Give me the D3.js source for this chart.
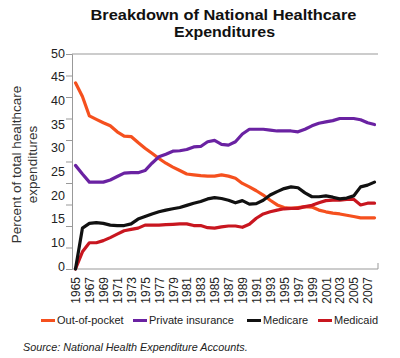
<!DOCTYPE html>
<html><head><meta charset="utf-8">
<script src="https://cdn.jsdelivr.net/npm/d3@7"></script>
<style>body{margin:0;background:#fff;} svg{display:block;font-family:"Liberation Sans",Arial,sans-serif;}</style>
</head><body>
<script>
const years = d3.range(1965, 2009);
const outOfPocket = [43.3,40.1,35.6,34.8,34.0,33.3,31.9,30.9,30.8,29.4,28.1,26.9,25.7,24.6,23.7,22.9,22.1,21.9,21.7,21.6,21.6,21.9,21.6,21.1,19.9,19.1,18.2,17.2,16.0,14.9,14.3,14.1,14.3,14.5,14.4,13.7,13.3,13.0,12.8,12.5,12.2,11.9,11.9,11.9];
const privateIns = [24.1,22.1,20.2,20.2,20.2,20.7,21.5,22.3,22.4,22.4,22.9,24.6,26.1,26.7,27.4,27.5,27.8,28.4,28.5,29.6,29.9,29.0,28.8,29.6,31.4,32.5,32.5,32.5,32.3,32.1,32.1,32.1,31.9,32.5,33.3,33.9,34.2,34.5,35.0,35.0,35.0,34.7,34.0,33.6];
const medicare = [0,9.5,10.6,10.8,10.6,10.2,10.1,10.1,10.5,11.6,12.2,12.8,13.3,13.7,14.0,14.3,14.8,15.3,15.7,16.3,16.6,16.4,16.0,15.4,15.9,15.1,15.2,16.0,17.2,18.0,18.7,19.1,18.9,17.7,16.8,16.8,17.0,16.7,16.3,16.5,17.0,19.1,19.5,20.2];
const medicaid = [0,4.0,6.1,6.1,6.6,7.3,8.1,8.9,9.2,9.5,10.2,10.2,10.2,10.3,10.4,10.5,10.5,10.1,10.1,9.6,9.5,9.8,10.0,10.0,9.7,10.4,11.8,12.8,13.3,13.7,14.0,14.1,14.1,14.5,14.8,15.4,15.9,16.0,16.0,16.2,16.2,14.9,15.3,15.3];
const seriesNames = ["Out-of-pocket","Private insurance","Medicare","Medicaid"];
const seriesColors = ["#f5501e","#6a22a2","#111111","#c8161f"];
const yTickValues = d3.range(0, 51, 5);
const yTickLabels = ["0","10","15","20","25","30","35","40","45","50"];
const xTickLabels = years.filter(y => (y - 1965) % 2 === 0);

const W = 400, H = 358;
const svg = d3.select("body").append("svg").attr("width", W).attr("height", H);
const pL = 72, pR = 378, pT = 54, pB = 269;

const x = d3.scalePoint().domain(years).range([pL, pR]).padding(0.5);
const y = d3.scaleLinear().domain([0, 50]).range([pB, pT]);
const yLab = d3.scalePoint().domain(yTickLabels).range([266, 53]);

// title
svg.append("text").attr("x", 223.5).attr("y", 20).attr("text-anchor", "middle")
  .attr("font-size", 15).attr("font-weight", "bold").attr("fill", "#111")
  .attr("textLength", 266).attr("lengthAdjust", "spacingAndGlyphs").text("Breakdown of National Healthcare");
svg.append("text").attr("x", 224.5).attr("y", 36.5).attr("text-anchor", "middle")
  .attr("font-size", 15).attr("font-weight", "bold").attr("fill", "#111")
  .attr("textLength", 101).attr("lengthAdjust", "spacingAndGlyphs").text("Expenditures");

// top line
svg.append("line").attr("x1", pL).attr("x2", pR).attr("y1", y(50)).attr("y2", y(50))
  .attr("stroke", "#999").attr("stroke-width", 1);

// y axis ticks
const yAxis = svg.append("g").attr("transform", `translate(${pL},0)`)
  .call(d3.axisLeft(y).tickValues(yTickValues).tickSize(6).tickFormat(""));
yAxis.selectAll("path,line").attr("stroke", "#999");

// y labels (as in reference, evenly spread)
svg.append("g").selectAll("text").data(yTickLabels).join("text")
  .attr("x", 65).attr("y", d => yLab(d)).attr("dy", "0.36em").attr("text-anchor", "end")
  .attr("font-size", 12.5).attr("fill", "#222").text(d => d);

// x axis
const xAxis = svg.append("g").attr("transform", `translate(0,${pB})`)
  .call(d3.axisBottom(x).tickValues(xTickLabels).tickSize(0).tickPadding(0));
xAxis.select(".domain").attr("stroke", "#999").attr("d", `M${pL},0H${pR}V-6`);
xAxis.selectAll("text").attr("transform", "rotate(-90)").attr("text-anchor", "end")
  .attr("x", -8).attr("y", 0).attr("dy", "0.35em").attr("font-size", 12).attr("fill", "#222")
  .attr("font-family", "Liberation Sans, Arial, sans-serif");

// y axis title
const yt = svg.append("text").attr("transform", "translate(21,164.5) rotate(-90)")
  .attr("text-anchor", "middle").attr("font-size", 13.5).attr("fill", "#333");
yt.append("tspan").attr("x", 0).attr("y", 0).text("Percent of total healthcare");
yt.append("tspan").attr("x", 0).attr("y", 16).text("expenditures");

// lines
const allSeries = [outOfPocket, privateIns, medicare, medicaid];
const line = d3.line().x((d, i) => x(years[i])).y(d => y(d)).curve(d3.curveLinear);
const drawOrder = [0, 1, 3, 2];
drawOrder.forEach(k => {
  svg.append("path").datum(allSeries[k]).attr("d", line).attr("fill", "none")
    .attr("stroke", seriesColors[k]).attr("stroke-width", 3.2)
    .attr("stroke-linejoin", "round").attr("stroke-linecap", "round");
});

// legend
const legX = [41, 133, 247, 318];
const lg = svg.append("g");
seriesNames.forEach((n, i) => {
  lg.append("line").attr("x1", legX[i]).attr("x2", legX[i] + 14).attr("y1", 320.5).attr("y2", 320.5)
    .attr("stroke", seriesColors[i]).attr("stroke-width", 3);
  lg.append("text").attr("x", legX[i] + 16).attr("y", 320.5).attr("dy", "0.36em")
    .attr("font-size", 11).attr("fill", "#222").text(n);
});

// source
svg.append("text").attr("x", 23).attr("y", 351).attr("font-size", 10.8).attr("font-style", "italic")
  .attr("fill", "#222").text("Source: National Health Expenditure Accounts.");
</script>
</body></html>
